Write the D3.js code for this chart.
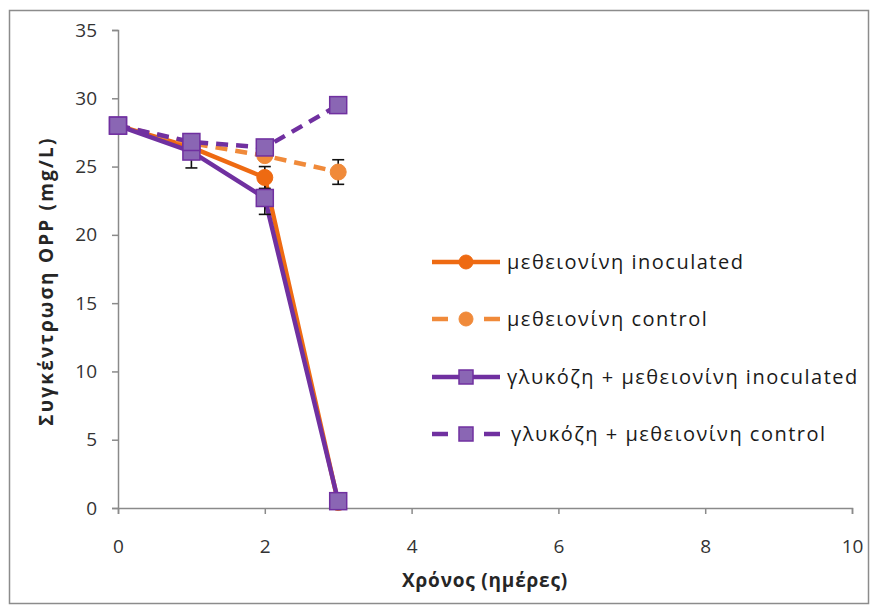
<!DOCTYPE html>
<html>
<head>
<meta charset="utf-8">
<script src="https://cdn.jsdelivr.net/npm/d3@7"></script>
<style>
  html, body { margin: 0; padding: 0; background: #fff; }
  svg { display: block; }
</style>
</head>
<body>
<svg id="chart" width="877" height="614"></svg>
<script>
// Sampling days
const days = [0, 1, 2, 3];

// OPP concentration (mg/L) per treatment
const methInoc    = [28.0, 26.4, 24.2, 0.4];
const methControl = [28.0, 26.7, 25.8, 24.6];
const glucInoc    = [28.0, 26.1, 22.7, 0.5];
const glucControl = [28.0, 26.8, 26.4, 29.5];

// Standard deviations (null = no bar)
const methInocErr    = [null, null, 0.8, null];
const methControlErr = [null, null, null, 0.9];
const glucInocErr    = [null, 1.2, 1.2, null];
const glucControlErr = [null, null, null, null];

const seriesNames = [
  "μεθειονίνη inoculated",
  "μεθειονίνη control",
  "γλυκόζη + μεθειονίνη  inoculated",
  "γλυκόζη + μεθειονίνη control"
];

const xTicks = [0, 2, 4, 6, 8, 10];
const yTicks = [0, 5, 10, 15, 20, 25, 30, 35];

const xTitle = "Χρόνος (ημέρες)";
const yTitle = "Συγκέντρωση  OPP  (mg/L)";

const series = [
  { name: seriesNames[0], values: methInoc, err: methInocErr, color: "#EE6A12", fill: "#EE6A12", dash: null, marker: "circle" },
  { name: seriesNames[1], values: methControl, err: methControlErr, color: "#F08A3A", fill: "#F08A3A", dash: "12,8", marker: "circle" },
  { name: seriesNames[2], values: glucInoc, err: glucInocErr, color: "#7030A0", fill: "#8A66B4", dash: null, marker: "square" },
  { name: seriesNames[3], values: glucControl, err: glucControlErr, color: "#7030A0", fill: "#8A66B4", dash: "12,8", marker: "square" }
];

const svg = d3.select("#chart");
const font = "'Open Sans', 'Noto Sans', sans-serif";

// outer frame
svg.append("rect")
  .attr("x", 9.5).attr("y", 10.5).attr("width", 859).attr("height", 593)
  .attr("fill", "#fff").attr("stroke", "#8c8c8c").attr("stroke-width", 1.5);

const x = d3.scaleLinear().domain([0, 10]).range([118, 852]);
const y = d3.scaleLinear().domain([0, 35]).range([508, 30]);

const axisColor = "#8a8a8a";
const tickColor = "#333";

// y axis
const yAxis = svg.append("g")
  .attr("transform", `translate(${x(0)},0)`)
  .call(d3.axisLeft(y).tickValues(yTicks).tickSize(6).tickPadding(15));
// x axis
const xAxis = svg.append("g")
  .attr("transform", `translate(0,${y(0)})`)
  .call(d3.axisBottom(x).tickValues(xTicks).tickSize(6).tickPadding(26));

[yAxis, xAxis].forEach(g => {
  g.select(".domain").attr("stroke", axisColor).attr("stroke-width", 1.5);
  g.selectAll(".tick line").attr("stroke", axisColor).attr("stroke-width", 1.5);
  g.selectAll(".tick text")
    .attr("fill", tickColor)
    .style("font-family", font)
    .style("font-size", "19px");
});

// axis titles
svg.append("text")
  .attr("x", 485).attr("y", 587)
  .attr("text-anchor", "middle")
  .style("font-family", font).style("font-size", "19px").style("font-weight", "bold")
  .style("letter-spacing", "0.8px")
  .attr("fill", "#262626")
  .text(xTitle);

svg.append("text")
  .attr("transform", `translate(53,${281}) rotate(-90)`)
  .attr("text-anchor", "middle")
  .style("font-family", font).style("font-size", "19px").style("font-weight", "bold")
  .style("letter-spacing", "2.2px")
  .attr("fill", "#262626")
  .text(yTitle);

const line = d3.line().x((d, i) => x(days[i])).y(d => y(d));

const plot = svg.append("g");

// lines
series.forEach(s => {
  plot.append("path")
    .datum(s.values)
    .attr("d", line)
    .attr("fill", "none")
    .attr("stroke", s.color)
    .attr("stroke-width", 4.5)
    .attr("stroke-dasharray", s.dash)
    .attr("stroke-linejoin", "round");
});

// error bars
series.forEach(s => {
  s.values.forEach((v, i) => {
    const e = s.err[i];
    if (e == null) return;
    const cx = x(days[i]);
    const g = plot.append("g").attr("stroke", "#111").attr("stroke-width", 1.6);
    g.append("line").attr("x1", cx).attr("x2", cx).attr("y1", y(v - e)).attr("y2", y(v + e));
    g.append("line").attr("x1", cx - 6).attr("x2", cx + 6).attr("y1", y(v - e)).attr("y2", y(v - e));
    g.append("line").attr("x1", cx - 6).attr("x2", cx + 6).attr("y1", y(v + e)).attr("y2", y(v + e));
  });
});

function drawMarker(g, s, cx, cy, size) {
  if (s.marker === "circle") {
    g.append("circle").attr("cx", cx).attr("cy", cy).attr("r", size / 2)
      .attr("fill", s.fill).attr("stroke", s.fill).attr("stroke-width", 1);
  } else {
    g.append("rect")
      .attr("x", cx - size / 2).attr("y", cy - size / 2)
      .attr("width", size).attr("height", size)
      .attr("fill", s.fill).attr("stroke", s.color).attr("stroke-width", 1.5);
  }
}

// markers
series.forEach(s => {
  s.values.forEach((v, i) => drawMarker(plot, s, x(days[i]), y(v), s.marker === "circle" ? 16 : 17));
});

// legend
const legend = svg.append("g");
const legendRows = [262, 319, 377, 434];
series.forEach((s, k) => {
  const ly = legendRows[k];
  const g = legend.append("g");
  if (s.dash) {
    g.append("line").attr("x1", 432).attr("x2", 448).attr("y1", ly).attr("y2", ly)
      .attr("stroke", s.color).attr("stroke-width", 4.5);
    g.append("line").attr("x1", 484).attr("x2", 500).attr("y1", ly).attr("y2", ly)
      .attr("stroke", s.color).attr("stroke-width", 4.5);
  } else {
    g.append("line").attr("x1", 432).attr("x2", 500).attr("y1", ly).attr("y2", ly)
      .attr("stroke", s.color).attr("stroke-width", 4.5);
  }
  drawMarker(g, s, 466, ly, 14);
  g.append("text")
    .attr("x", k === 3 ? 511 : 507).attr("y", ly + 7)
    .style("font-family", font).style("font-size", "20px")
    .style("letter-spacing", "1.5px")
    .attr("fill", "#1a1a1a")
    .text(s.name);
});
</script>
</body>
</html>
